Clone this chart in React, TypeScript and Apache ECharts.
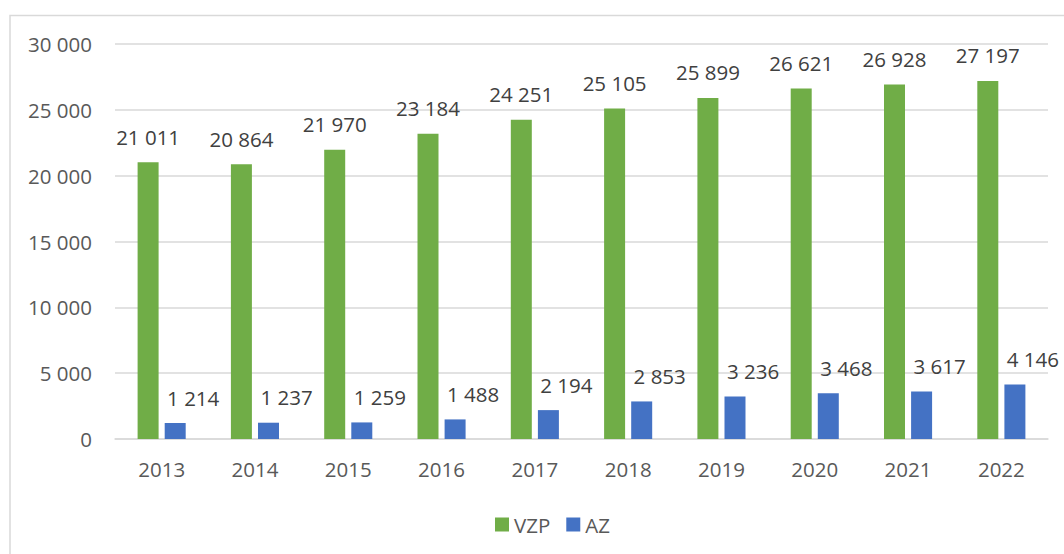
import React, { useEffect, useRef } from "react";
import * as echarts from "echarts";

const years = ["2013", "2014", "2015", "2016", "2017", "2018", "2019", "2020", "2021", "2022"];
const vzp = [21011, 20864, 21970, 23184, 24251, 25105, 25899, 26621, 26928, 27197];
const az = [1214, 1237, 1259, 1488, 2194, 2853, 3236, 3468, 3617, 4146];
const seriesNames = ["VZP", "AZ"];

const fmt = (v: number) => String(v).replace(/\B(?=(\d{3})+(?!\d))/g, " ");
const FONT = "Open Sans";

export default function App() {
  const ref = useRef<HTMLDivElement>(null);
  useEffect(() => {
    if (!ref.current) return;
    const chart = echarts.init(ref.current, undefined, { renderer: "svg" });
    chart.setOption({
      animation: false,
      backgroundColor: "#ffffff",
      textStyle: { fontFamily: FONT },
      graphic: [
        {
          type: "rect",
          shape: { x: 10, y: 15.5, width: 1200, height: 700 },
          style: { fill: "none", stroke: "#D9D9D9", lineWidth: 1.5 },
          silent: true,
        },
      ],
      grid: { left: 115, top: 44, width: 933, height: 395, containLabel: false },
      legend: {
        data: seriesNames,
        left: 490,
        top: 509,
        itemWidth: 14,
        itemHeight: 14,
        itemGap: 16,
        icon: "rect",
        textStyle: { fontFamily: FONT, fontSize: 20.5, color: "#595959", padding: [0, 0, 0, 0] },
      },
      xAxis: {
        type: "category",
        data: years,
        axisLine: { lineStyle: { color: "#D9D9D9", width: 1.5 } },
        axisTick: { show: false },
        axisLabel: { fontFamily: FONT, fontSize: 20.5, color: "#595959", margin: 19 },
      },
      yAxis: {
        type: "value",
        min: 0,
        max: 30000,
        interval: 5000,
        axisLine: { show: false },
        axisTick: { show: false },
        splitLine: { lineStyle: { color: "#D9D9D9", width: 1.5 } },
        axisLabel: {
          fontFamily: FONT,
          fontSize: 20.5,
          color: "#595959",
          margin: 23,
          formatter: (v: number) => fmt(v),
        },
      },
      series: [
        {
          name: seriesNames[0],
          type: "bar",
          data: vzp,
          barWidth: 21,
          barGap: "29%",
          itemStyle: { color: "#70AD47" },
          label: {
            show: true,
            position: "top",
            distance: 15,
            fontFamily: FONT,
            fontSize: 20.5,
            color: "#404040",
            formatter: (p: any) => fmt(p.value),
          },
        },
        {
          name: seriesNames[1],
          type: "bar",
          data: az,
          barWidth: 21,
          itemStyle: { color: "#4472C4" },
          label: {
            show: true,
            position: "top",
            distance: 15,
            offset: [18, 0],
            fontFamily: FONT,
            fontSize: 20.5,
            color: "#404040",
            formatter: (p: any) => fmt(p.value),
          },
        },
      ],
    });
    return () => chart.dispose();
  }, []);
  return (
    <div
      ref={ref}
      style={{ position: "fixed", left: 0, top: 0, width: 1064, height: 554 }}
    />
  );
}
